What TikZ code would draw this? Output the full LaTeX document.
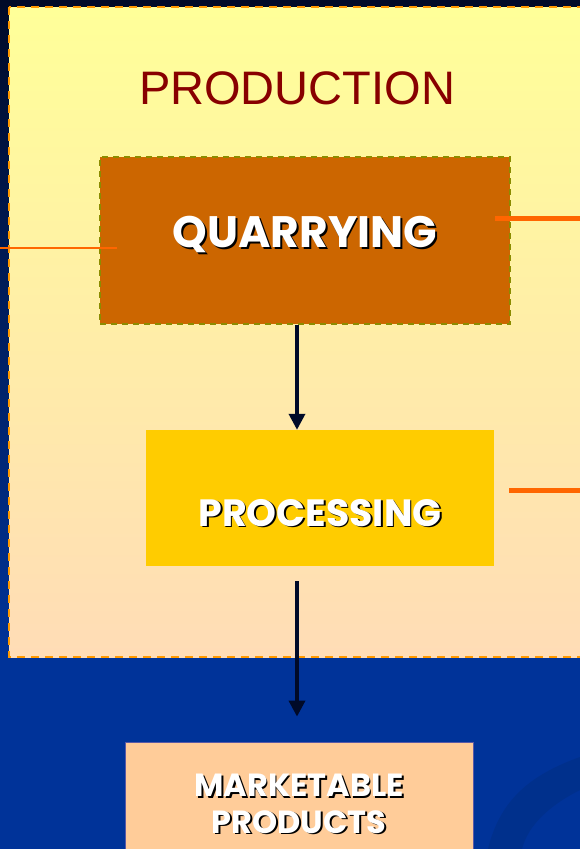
\documentclass[tikz,border=0pt]{standalone}
\usepackage{fontspec}
\usetikzlibrary{arrows.meta}
\newfontfamily\labelfont{Liberation Sans}
\newfontfamily\comicfont{Poppins}[BoldFont={* Bold}]
\definecolor{deepblue}{HTML}{003399}
\definecolor{nightblue}{HTML}{000A28}
\definecolor{swooshblue}{HTML}{00308C}
\definecolor{framefill}{HTML}{FFFF99}
\definecolor{framefillb}{HTML}{FFDCB6}
\definecolor{frameedge}{HTML}{FF9900}
\definecolor{quarryfill}{HTML}{CC6600}
\definecolor{quarryedge}{HTML}{8C8C00}
\definecolor{processfill}{HTML}{FFCC00}
\definecolor{marketfill}{HTML}{FFCC99}
\definecolor{linkorange}{HTML}{FF6600}
\definecolor{titlered}{HTML}{880000}
\newcommand\shadowed[1]{\rlap{\kern1.8pt\raisebox{-1.8pt}{\color{black}#1}}{\color{white}#1}}

\begin{document}
\begin{tikzpicture}[x=1pt,y=-1pt,
    stagebox/.style = {rectangle, inner sep=0pt, font=\comicfont\bfseries\fontsize{44}{46}\selectfont},
    flow/.style = {draw=nightblue, line width=3.5pt, -{Triangle[width=16pt,length=16pt]}},
    link/.style = {draw=linkorange, line width=5pt}]
    \clip (0,0) rectangle (580,849);
    \useasboundingbox (0,0) rectangle (580,849);
    \shade[top color=nightblue, bottom color=deepblue] (0,0) rectangle (580,660);
    \fill[deepblue] (0,659) rectangle (580,849);
    \fill[swooshblue] (488,849) .. controls (500,800) and (530,775) .. (580,757)
        -- (580,790) .. controls (550,805) and (528,825) .. (522,849) -- cycle;
    \shade[top color=framefill, bottom color=framefillb, draw=frameedge,
        line width=2pt, dash pattern=on 8pt off 6pt] (9,7) rectangle (592,657);
    \node[font=\labelfont\fontsize{47}{52}\selectfont, text=titlered] (title) at (297,88) {PRODUCTION};
    \node[stagebox, fill=quarryfill, draw=quarryedge, line width=1.8pt, dash pattern=on 6pt off 5pt,
        minimum width=410pt, minimum height=167pt] (quarry) at (305,240.5) {\raisebox{-7pt}[0pt][0pt]{\shadowed{QUARRYING}}};
    \node[stagebox, fill=processfill, minimum width=348pt, minimum height=136pt,
        font=\comicfont\bfseries\fontsize{38}{42}\selectfont] (process) at (320,498) {\raisebox{-28pt}[0pt][0pt]{\shadowed{PROCESSING}}};
    \node[stagebox, fill=marketfill, draw=gray!70!blue, line width=0.8pt, minimum width=348pt,
        minimum height=140pt, align=center, font=\comicfont\bfseries\fontsize{32}{37}\selectfont]
        (market) at (299,812) {\raisebox{17pt}{\shadowed{MARKETABLE}}\\[-4pt]\raisebox{17pt}{\shadowed{PRODUCTS}}};
    \coordinate (leftend) at (0,248);
    \coordinate (leftstop) at (117,248);
    \coordinate (topright) at (580,218);
    \coordinate (midright) at (580,490);
    \draw[linkorange, line width=1.5pt] (leftend) -- (leftstop);
    \draw[link] (quarry.east |- topright) ++(-16,0) -- (topright);
    \draw[link] (process.east |- midright) ++(15,0) -- (midright);
    \draw[flow] (quarry.south -| title.south) -- (process.north -| title.south);
    \draw[flow, shorten <=15pt, shorten >=25pt] (process.south -| title.south) -- (market.north -| title.south);
\end{tikzpicture}
\end{document}
